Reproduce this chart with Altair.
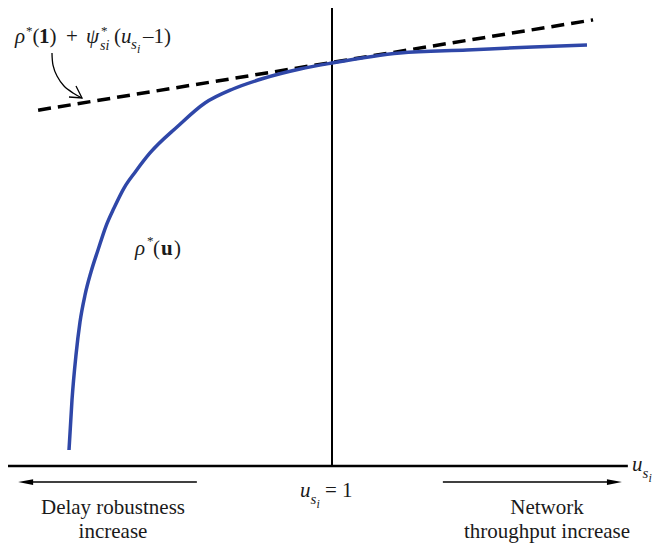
import altair as alt
import pandas as pd

# ---- data (u = normalised x, rho = normalised y) ----
curve_u = [0.1982, 0.2073, 0.2195, 0.2317, 0.2470, 0.2652, 0.2866, 0.3110, 0.3354, 0.3659,
           0.4024, 0.4451, 0.5274, 0.6128, 0.6982, 0.7896, 0.9024, 1.0, 1.2073, 1.4116,
           1.6128, 1.7774]
curve_rho = [0.0397, 0.1638, 0.2754, 0.3573, 0.4243, 0.4814, 0.5360, 0.5955, 0.6402, 0.6898,
             0.7320, 0.7767, 0.8412, 0.9007, 0.9355, 0.9615, 0.9851, 1.0, 1.0248, 1.0323,
             1.0397, 1.0447]
tangent_u = [0.104, 1.796]
tangent_rho = [0.883, 1.107]

haxis_u = [0.0, 1.902]
haxis_rho = [0.0, 0.0]
vaxis_u = [1.0, 1.0]
vaxis_rho = [0.0, 1.156]

larrow_u = [0.588, 0.066]
rarrow_u = [1.338, 1.861]
arrow_rho = [-0.040, -0.040]

callout_u = [0.1463, 0.1494, 0.1616, 0.1829, 0.2104, 0.2378]
callout_rho = [1.0248, 0.9950, 0.9677, 0.9429, 0.9256, 0.9132]
chevron_u = [0.2195, 0.2378, 0.1982]
chevron_rho = [0.9429, 0.9132, 0.9156]

# annotation text pieces (text, x px, y px baseline, font size)
italic_pieces = [("ρ", 7, 35, 21), ("ψ", 78, 35, 21), ("si", 92, 42, 14), ("u", 113, 35, 21),
                 ("s", 123, 41, 15), ("i", 129, 45, 12),
                 ("ρ", 127, 247, 21),
                 ("u", 292, 489, 21), ("s", 302.5, 496, 15), ("i", 308.5, 500, 12),
                 ("u", 624, 463, 21), ("s", 634.5, 470, 15), ("i", 640.5, 474, 12)]
normal_pieces = [("*", 18, 27, 13), ("(", 24.5, 35, 21), (")", 41.5, 35, 21), ("+", 58, 35, 21),
                 ("*", 93, 27, 13), ("(", 106, 35, 21), ("–1)", 135, 35, 21),
                 ("*", 139, 237, 13), ("(", 145, 247, 21), (")", 166, 247, 21),
                 ("= 1", 317, 489, 21)]
bold_pieces = [("1", 31, 35, 21), ("u", 153, 247, 21)]
center_pieces = [("Delay robustness", 105, 506, 21), ("increase", 105, 530, 21),
                 ("Network", 539, 506, 21), ("throughput increase", 539, 530, 21)]

FONT = "Liberation Serif"
W, H = 644, 535
xs = alt.Scale(domain=[0.0122, 1.9756], nice=False, zero=False)
ys = alt.Scale(domain=[-0.19107, 1.13648], nice=False, zero=False)


def df(u, r):
    return pd.DataFrame({"u": u, "rho": r, "k": list(range(len(u)))})


def enc(ch):
    return ch.encode(x=alt.X("u:Q", scale=xs, axis=None),
                     y=alt.Y("rho:Q", scale=ys, axis=None),
                     order="k:Q")


haxis = enc(alt.Chart(df(haxis_u, haxis_rho)).mark_line(color="black", strokeWidth=2.5))
vaxis = enc(alt.Chart(df(vaxis_u, vaxis_rho)).mark_line(color="black", strokeWidth=2))
curve = enc(alt.Chart(df(curve_u, curve_rho)).mark_line(
    color="#2f47a8", strokeWidth=3.5, interpolate="monotone"))
tangent = enc(alt.Chart(df(tangent_u, tangent_rho)).mark_line(
    color="black", strokeWidth=3.5, strokeDash=[13, 7]))
larrow = enc(alt.Chart(df(larrow_u, arrow_rho)).mark_line(color="black", strokeWidth=1.5))
rarrow = enc(alt.Chart(df(rarrow_u, arrow_rho)).mark_line(color="black", strokeWidth=1.5))
lhead = alt.Chart(df([larrow_u[1]], [arrow_rho[1]])).mark_point(
    shape="M-1,0 L1,-0.38 L1,0.38 Z", size=225, filled=True, color="black", opacity=1
).encode(x=alt.X("u:Q", scale=xs, axis=None), y=alt.Y("rho:Q", scale=ys, axis=None))
rhead = alt.Chart(df([rarrow_u[1]], [arrow_rho[1]])).mark_point(
    shape="M1,0 L-1,-0.38 L-1,0.38 Z", size=225, filled=True, color="black", opacity=1
).encode(x=alt.X("u:Q", scale=xs, axis=None), y=alt.Y("rho:Q", scale=ys, axis=None))
callout = enc(alt.Chart(df(callout_u, callout_rho)).mark_line(
    color="black", strokeWidth=1.3, interpolate="cardinal"))
chevron = enc(alt.Chart(df(chevron_u, chevron_rho)).mark_line(color="black", strokeWidth=1.3))


def text_layer(pieces, align="left", **kw):
    d = pd.DataFrame(pieces, columns=["t", "px", "py", "fs"])
    return alt.Chart(d).mark_text(font=FONT, align=align, baseline="alphabetic",
                                  color="#1a1a1a", **kw).encode(
        x=alt.X("px:Q", scale=None), y=alt.Y("py:Q", scale=None),
        size=alt.Size("fs:Q", scale=None, legend=None), text="t:N")


t_it = text_layer(italic_pieces, fontStyle="italic")
t_no = text_layer(normal_pieces)
t_bo = text_layer(bold_pieces, fontWeight="bold")
t_ce = text_layer(center_pieces, align="center")

chart = alt.layer(haxis, vaxis, tangent, curve, larrow, rarrow, lhead, rhead, callout, chevron,
                  t_it, t_no, t_bo, t_ce).properties(
    width=W, height=H, padding=0, autosize=alt.AutoSizeParams(type="none")
).configure_view(stroke=None)

chart.save("out.html", embed_options={"renderer": "svg", "actions": False})
